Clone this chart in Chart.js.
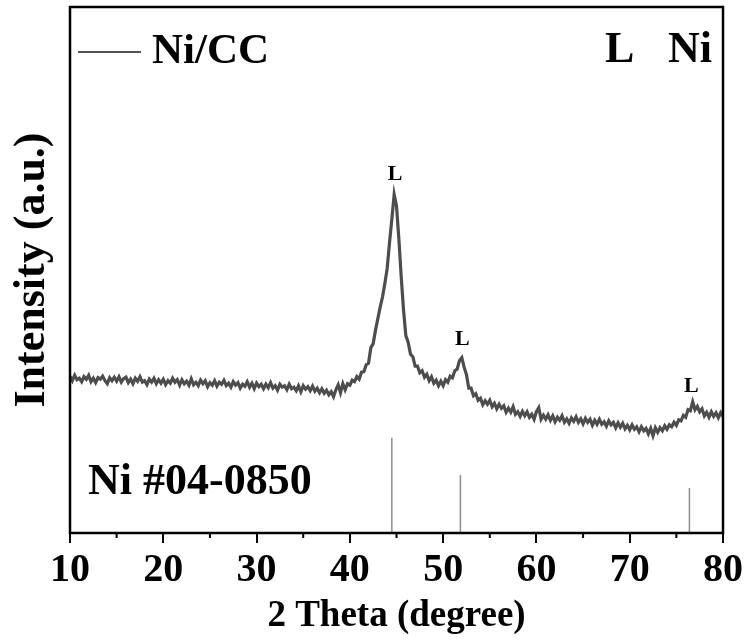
<!DOCTYPE html>
<html>
<head>
<meta charset="utf-8">
<script src="https://cdn.jsdelivr.net/npm/chart.js@4.4.1/dist/chart.umd.min.js"></script>
<style>
  body { margin:0; background:#fff; }
  #wrap { width:749px; height:644px; }
</style>
</head>
<body>
<div id="wrap"><canvas id="chart" width="749" height="644"></canvas></div>
<script>

// ------------------------------
// DATA
// ------------------------------

// scan starts at 10 deg, one reading every 0.25 deg
const thetaStart = 10
const thetaStep = 0.25

// Ni/CC intensity (a.u.), 8 readings per row = 2 degrees
const intensity = [
    313,304,315,306,309,302,312,307,  // 10
    315,302,309,300,310,307,313,304,  // 12
    298,310,304,311,303,312,301,308,  // 14
    311,300,307,298,309,303,312,301,  // 16
    304,296,307,301,309,298,306,299,  // 18
    307,296,304,299,309,301,306,295,  // 20
    306,298,303,295,308,296,301,294,  // 22
    305,298,304,292,300,295,304,293,  // 24
    301,297,305,294,299,291,302,295,  // 26
    300,289,297,293,302,291,299,288,  // 28
    299,292,297,288,297,290,300,289,  // 30
    294,285,297,291,294,286,297,288,  // 32
    291,284,294,282,294,287,292,284,  // 34
    293,283,289,280,288,279,285,276,  // 36
    282,272,286,296,280,298,286,298,  // 38
    295,305,302,312,307,321,322,336,  // 40
    339,370,378,405,428,451,471,498,  // 42
    528,579,626,676,653,588,513,446,  // 44
    394,381,357,352,333,333,320,324,  // 46
    311,317,304,312,299,305,294,303,  // 48
    294,306,301,313,310,324,327,344,  // 50
    350,331,316,289,289,274,278,265,  // 52
    269,256,264,257,265,252,259,248,  // 54
    257,249,254,241,249,241,252,237,  // 56
    242,233,243,234,242,231,237,227,  // 58
    242,250,227,235,227,236,225,234,  // 60
    222,231,225,234,221,228,219,230,  // 62
    223,232,221,228,218,229,221,227,  // 64
    215,225,217,227,217,222,213,224,  // 66
    216,221,210,220,211,219,208,215,  // 68
    206,216,207,212,202,212,204,209,  // 70
    198,209,194,210,201,210,204,214,  // 72
    207,216,212,221,215,226,224,235,  // 74
    231,246,244,262,246,253,242,248,  // 76
    234,241,231,242,233,240,230,240,  // 78
    232                               // 80
]

// Ni #04-0850 reference pattern
const refTheta = [44.5, 51.85, 76.4]
const refHeight = [190, 116, 90]

// "L" markers over the peaks
const peakTheta = [44.85, 52.05, 76.6]
const peakLabelY = [704, 376, 282]

const xTicks = [10, 20, 30, 40, 50, 60, 70, 80]
const xMinorTicks = [15, 25, 35, 45, 55, 65, 75]

const FONT = "'Liberation Serif', 'Times New Roman', serif"

// ------------------------------
// BUILD DATASETS
// ------------------------------

const scan = intensity.map((v, i) => ({x: thetaStart + i * thetaStep, y: v}))

const sticks = []
for(let i = 0; i < refTheta.length; i++){
    sticks.push({x: refTheta[i], y: 0})
    sticks.push({x: refTheta[i], y: refHeight[i]})
    sticks.push({x: refTheta[i], y: null})
}

// ------------------------------
// EXTRAS: frame, minor ticks, labels
// ------------------------------

const extras = {
    id: "extras",
    afterDraw(chart){
        const ctx = chart.ctx
        const a = chart.chartArea
        const xs = chart.scales.x
        const ys = chart.scales.y

        ctx.save()

        // frame
        ctx.strokeStyle = "#000"
        ctx.lineWidth = 2.5
        ctx.strokeRect(a.left, a.top, a.right - a.left, a.bottom - a.top)

        // minor ticks
        ctx.lineWidth = 2
        for(const v of xMinorTicks){
            const px = xs.getPixelForValue(v)
            ctx.beginPath()
            ctx.moveTo(px, a.bottom)
            ctx.lineTo(px, a.bottom + 5)
            ctx.stroke()
        }

        // legend
        ctx.strokeStyle = "#555"
        ctx.lineWidth = 2
        ctx.beginPath()
        ctx.moveTo(a.left + 8, a.top + 45)
        ctx.lineTo(a.left + 71, a.top + 45)
        ctx.stroke()

        ctx.fillStyle = "#000"
        ctx.textBaseline = "alphabetic"
        ctx.textAlign = "left"
        ctx.font = `bold 43px ${FONT}`
        ctx.fillText("Ni/CC", a.left + 82, a.top + 56)

        ctx.font = `bold 44px ${FONT}`
        ctx.fillText("L", a.right - 118, a.top + 55)
        ctx.fillText("Ni", a.right - 55, a.top + 55)

        ctx.fillText("Ni #04-0850", a.left + 18, a.bottom - 39)

        // peak markers
        ctx.font = `bold 22px ${FONT}`
        ctx.textAlign = "center"
        for(let i = 0; i < peakTheta.length; i++){
            ctx.fillText("L", xs.getPixelForValue(peakTheta[i]), ys.getPixelForValue(peakLabelY[i]))
        }

        ctx.restore()
    }
}

// ------------------------------
// CHART
// ------------------------------

const chart = new Chart(document.getElementById("chart").getContext("2d"), {
    type: "line",
    data: {
        datasets: [
            {
                label: "Ni/CC",
                data: scan,
                borderColor: "#4d4d4d",
                borderWidth: 3.2,
                pointRadius: 0,
                tension: 0
            },
            {
                label: "Ni #04-0850",
                data: sticks,
                borderColor: "#8f8f8f",
                borderWidth: 1.5,
                pointRadius: 0,
                spanGaps: false
            }
        ]
    },
    options: {
        responsive: false,
        animation: false,
        devicePixelRatio: 1,
        layout: {padding: {top: 7, right: 26, left: 0, bottom: 0}},
        plugins: {legend: {display: false}, tooltip: {enabled: false}},
        scales: {
            x: {
                type: "linear",
                min: 10,
                max: 80,
                afterBuildTicks: s => { s.ticks = xTicks.map(v => ({value: v})) },
                afterFit: s => { s.height = 111 },
                ticks: {
                    color: "#000",
                    padding: 4,
                    maxRotation: 0,
                    font: {family: FONT, size: 40, weight: "bold"}
                },
                grid: {
                    drawOnChartArea: false,
                    drawTicks: true,
                    tickLength: 10,
                    color: "#000",
                    lineWidth: 2
                },
                border: {display: false},
                title: {
                    display: true,
                    text: "2 Theta (degree)",
                    color: "#000",
                    padding: {top: 0, bottom: 5},
                    font: {family: FONT, size: 37, weight: "bold"}
                }
            },
            y: {
                min: 0,
                max: 1050,
                afterFit: s => { s.width = 70 },
                ticks: {display: false},
                grid: {display: false},
                border: {display: false},
                title: {
                    display: true,
                    text: "Intensity (a.u.)",
                    color: "#000",
                    padding: {top: 6, bottom: 0},
                    font: {family: FONT, size: 44, weight: "bold"}
                }
            }
        }
    },
    plugins: [extras]
})

</script>
</body>
</html>
